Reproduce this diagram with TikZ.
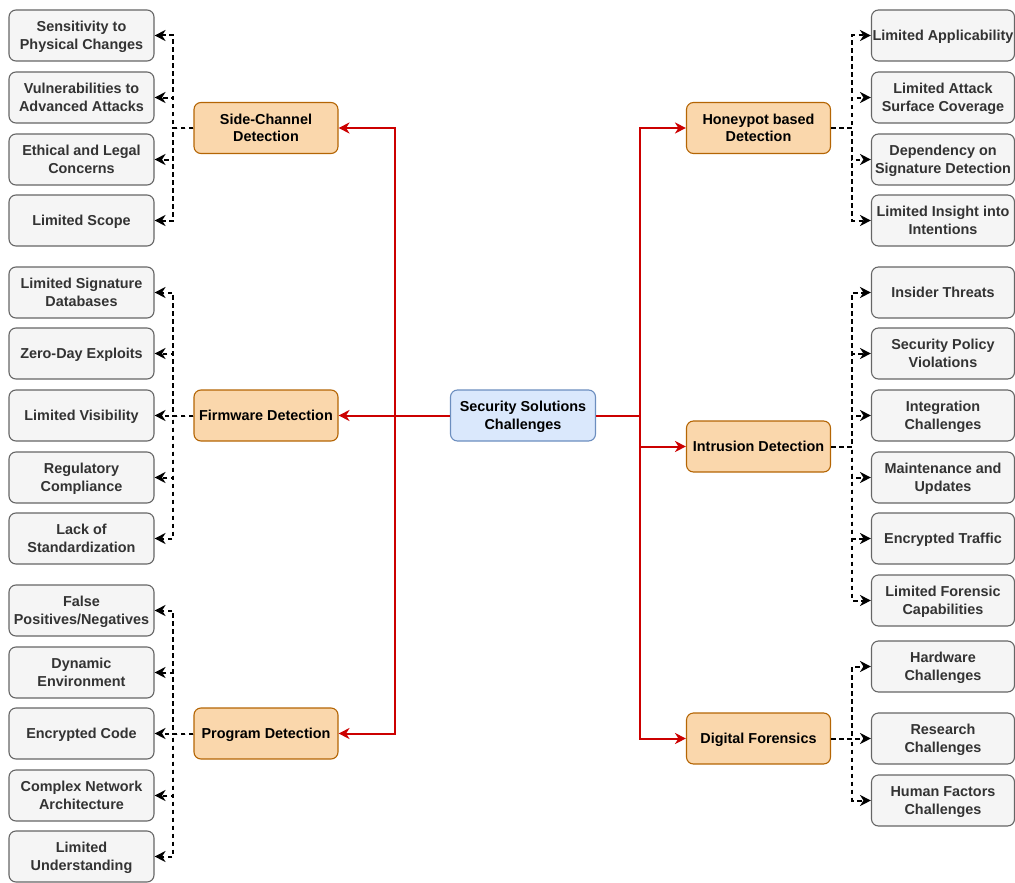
\documentclass[tikz,border=0pt]{standalone}
\usepackage{fontspec}
\setmainfont{Liberation Sans}
\usetikzlibrary{arrows.meta}
\definecolor{leafFill}{HTML}{F5F5F5}
\definecolor{leafLine}{HTML}{666666}
\definecolor{leafText}{HTML}{333333}
\definecolor{catFill}{HTML}{FAD7AC}
\definecolor{catLine}{HTML}{B46504}
\definecolor{rootFill}{HTML}{DAE8FC}
\definecolor{rootLine}{HTML}{6C8EBF}
\definecolor{linkRed}{HTML}{CC0000}
\tikzset{
  base/.style={rounded corners=7, line width=1.1, align=center, inner sep=0,
    minimum width=145, minimum height=51,
    text height=13.6, text depth=3.7,
    font=\fontsize{14.4}{17.3}\selectfont\bfseries},
  % two-line labels: the text box reaches one line higher
  dbl/.style={text height=30.9},
  leaf/.style={base, draw=leafLine, fill=leafFill, text=leafText},
  leafR/.style={leaf, minimum width=143},
  cat/.style={base, draw=catLine, fill=catFill, text=black, minimum width=144},
  root/.style={base, draw=rootLine, fill=rootFill, text=black},
  tip/.style={-{Stealth[length=11, width=11, inset=3.5]}},
  redarrow/.style={tip, draw=linkRed, line width=2},
  redline/.style={draw=linkRed, line width=2},
  dasharrow/.style={tip, draw=black, line width=2, dash pattern=on 4.5 off 3.5}
}
\begin{document}
\begin{tikzpicture}[x=1pt, y=-1pt]
\useasboundingbox (0,0) rectangle (1015,883);

% root
\node[root,dbl] (root) at (523,415.5) {Security Solutions\\Challenges};

% categories, left
\node[cat,dbl] (side) at (266,128) {Side-Channel\\Detection};
\node[cat] (firm) at (266,415.5) {Firmware Detection};
\node[cat] (prog) at (266,733.5) {Program Detection};
% categories, right
\node[cat,dbl] (honey) at (758.5,128) {Honeypot based\\Detection};
\node[cat] (intr) at (758.5,446.5) {Intrusion Detection};
\node[cat] (dfor) at (758.5,738.5) {Digital Forensics};

% left leaves
\node[leaf,dbl] (s1) at (81.5,35.5) {Sensitivity to\\Physical Changes};
\node[leaf,dbl] (s2) at (81.5,97.5) {Vulnerabilities to\\Advanced Attacks};
\node[leaf,dbl] (s3) at (81.5,159.5) {Ethical and Legal\\Concerns};
\node[leaf] (s4) at (81.5,220.5) {Limited Scope};
\node[leaf,dbl] (f1) at (81.5,292.5) {Limited Signature\\Databases};
\node[leaf] (f2) at (81.5,353.5) {Zero-Day Exploits};
\node[leaf] (f3) at (81.5,415.5) {Limited Visibility};
\node[leaf,dbl] (f4) at (81.5,477.5) {Regulatory\\Compliance};
\node[leaf,dbl] (f5) at (81.5,538.5) {Lack of\\Standardization};
\node[leaf,dbl] (p1) at (81.5,610.5) {False\\Positives/Negatives};
\node[leaf,dbl] (p2) at (81.5,672.5) {Dynamic\\Environment};
\node[leaf] (p3) at (81.5,733.5) {Encrypted Code};
\node[leaf,dbl] (p4) at (81.5,795.5) {Complex Network\\Architecture};
\node[leaf,dbl] (p5) at (81.5,856.5) {Limited\\Understanding};

% right leaves
\node[leafR] (h1) at (943,35.5) {Limited Applicability};
\node[leafR,dbl] (h2) at (943,97.5) {Limited Attack\\Surface Coverage};
\node[leafR,dbl] (h3) at (943,159.5) {Dependency on\\Signature Detection};
\node[leafR,dbl] (h4) at (943,220.5) {Limited Insight into\\Intentions};
\node[leafR] (i1) at (943,292.5) {Insider Threats};
\node[leafR,dbl] (i2) at (943,353.5) {Security Policy\\Violations};
\node[leafR,dbl] (i3) at (943,415.5) {Integration\\Challenges};
\node[leafR,dbl] (i4) at (943,477.5) {Maintenance and\\Updates};
\node[leafR] (i5) at (943,538.5) {Encrypted Traffic};
\node[leafR,dbl] (i6) at (943,600.5) {Limited Forensic\\Capabilities};
\node[leafR,dbl] (d1) at (943,666.5) {Hardware\\Challenges};
\node[leafR,dbl] (d2) at (943,738.5) {Research\\Challenges};
\node[leafR,dbl] (d3) at (943,800.5) {Human Factors\\Challenges};

% red trunk, left side
\coordinate (lj) at (395,415.5);
\draw[redarrow] (root.west) -- (firm.east);
\draw[redarrow] (lj) |- (side.east);
\draw[redarrow] (lj) |- (prog.east);
% red trunk, right side
\coordinate (rj) at (640,415.5);
\draw[redline] (root.east) -- (rj);
\draw[redarrow] (rj) |- (honey.west);
\draw[redarrow] (rj) |- (intr.west);
\draw[redarrow] (rj) |- (dfor.west);

% dashed branches, left
\foreach \c in {s1,s2,s3,s4}
  \draw[dasharrow] (side.west) -- ++(-20,0) |- (\c.east);
\foreach \c in {f1,f2,f3,f4,f5}
  \draw[dasharrow] (firm.west) -- ++(-20,0) |- (\c.east);
\foreach \c in {p1,p2,p3,p4,p5}
  \draw[dasharrow] (prog.west) -- ++(-20,0) |- (\c.east);
% dashed branches, right
\foreach \c in {h1,h2,h3,h4}
  \draw[dasharrow] (honey.east) -- ++(21,0) |- (\c.west);
\foreach \c in {i1,i2,i3,i4,i5,i6}
  \draw[dasharrow] (intr.east) -- ++(21,0) |- (\c.west);
\foreach \c in {d1,d2,d3}
  \draw[dasharrow] (dfor.east) -- ++(21,0) |- (\c.west);
\end{tikzpicture}
\end{document}
